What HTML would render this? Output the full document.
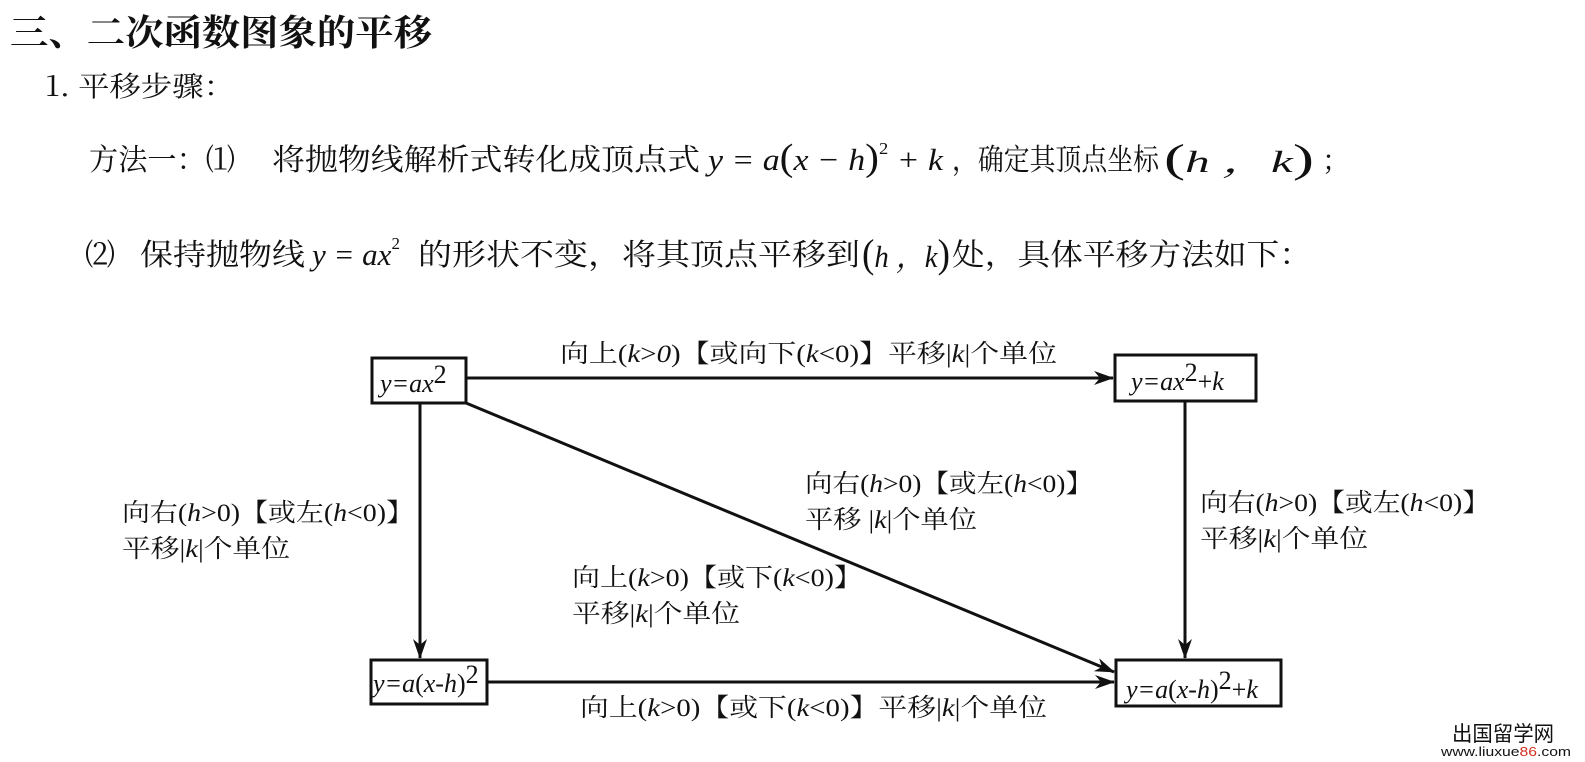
<!DOCTYPE html>
<html><head><meta charset="utf-8"><style>
html,body{margin:0;padding:0;background:#fff;overflow:hidden;width:1585px;height:762px;}
svg{display:block;}
text{font-family:"Liberation Serif","Noto Serif CJK SC",serif;fill:#111;}
.s{font-family:"Noto Serif CJK SC","Liberation Serif",serif;}
</style></head><body>
<svg width="1585" height="762" viewBox="0 0 1585 762" xmlns="http://www.w3.org/2000/svg">
<defs><marker id="a" viewBox="0 0 20 14" refX="19" refY="7" markerWidth="20" markerHeight="14" markerUnits="userSpaceOnUse" orient="auto"><path d="M0,0 L20,7 L0,14 L6,7 Z" fill="#111"/></marker></defs>
<text x="10" y="45" font-size="36" class="s" textLength="422" lengthAdjust="spacingAndGlyphs" font-weight="bold">三、二次函数图象的平移</text>
<text x="45" y="96" font-size="28" class="s" textLength="190" lengthAdjust="spacingAndGlyphs">1. 平移步骤：</text>

<text x="89" y="170" font-size="30" class="s" textLength="146" lengthAdjust="spacingAndGlyphs">方法一：⑴</text>
<text x="272" y="170" font-size="30" class="s" textLength="428" lengthAdjust="spacingAndGlyphs">将抛物线解析式转化成顶点式</text>
<text x="708" y="170" font-size="31" font-style="italic" textLength="235" lengthAdjust="spacingAndGlyphs">y = a<tspan font-style="normal" font-size="38">(</tspan>x − h<tspan font-style="normal" font-size="38">)</tspan><tspan font-size="17" dy="-16" font-style="normal">2</tspan><tspan dy="16"> + k</tspan></text>
<text x="952" y="170" font-size="30" class="s" textLength="207" lengthAdjust="spacingAndGlyphs">，确定其顶点坐标</text>
<text x="1164" y="172" font-size="31" font-style="italic" textLength="150" lengthAdjust="spacingAndGlyphs"><tspan font-style="normal" font-size="40">(</tspan>h ，k<tspan font-style="normal" font-size="40">)</tspan></text>
<text x="1322" y="170" font-size="28" class="s">；</text>

<text x="85" y="265" font-size="30" class="s" textLength="30" lengthAdjust="spacingAndGlyphs">⑵</text>
<text x="140" y="265" font-size="30" class="s" textLength="165" lengthAdjust="spacingAndGlyphs">保持抛物线</text>
<text x="312" y="265" font-size="31" font-style="italic">y = ax<tspan font-size="17" dy="-16" font-style="normal">2</tspan></text>
<text x="418" y="265" font-size="30" class="s" textLength="442" lengthAdjust="spacingAndGlyphs">的形状不变，将其顶点平移到</text>
<text x="862" y="267" font-size="31" font-style="italic" textLength="88" lengthAdjust="spacingAndGlyphs"><tspan font-style="normal" font-size="40">(</tspan>h ，k<tspan font-style="normal" font-size="40">)</tspan></text>
<text x="952" y="265" font-size="30" class="s" textLength="360" lengthAdjust="spacingAndGlyphs">处，具体平移方法如下：</text>

<g stroke="#111" stroke-width="3" fill="none">
<rect x="372" y="358" width="94" height="45"/>
<rect x="1115" y="355" width="141" height="46"/>
<rect x="371" y="660" width="116" height="44"/>
<rect x="1116" y="660" width="165" height="46"/>
<line x1="466" y1="378" x2="1113" y2="378" marker-end="url(#a)"/>
<line x1="420" y1="403" x2="420" y2="658" marker-end="url(#a)"/>
<line x1="1185" y1="401" x2="1185" y2="658" marker-end="url(#a)"/>
<line x1="487" y1="682" x2="1114" y2="682" marker-end="url(#a)"/>
<line x1="466" y1="403" x2="1114" y2="672" marker-end="url(#a)"/>
</g>
<g font-size="26">
<text x="380" y="392" font-style="italic">y=ax<tspan font-style="normal" dy="-9">2</tspan></text>
<text x="1131" y="390" font-style="italic">y=ax<tspan font-style="normal" dy="-9">2</tspan><tspan dy="9" font-style="normal">+</tspan>k</text>
<text x="373" y="692" font-style="italic">y=a<tspan font-style="normal">(</tspan>x-h<tspan font-style="normal">)</tspan><tspan font-style="normal" dy="-9">2</tspan></text>
<text x="1126" y="698" font-style="italic">y=a<tspan font-style="normal">(</tspan>x-h<tspan font-style="normal">)</tspan><tspan font-style="normal" dy="-9">2</tspan><tspan dy="9" font-style="normal">+</tspan>k</text>
</g>
<g font-size="25">
<text x="560" y="362" textLength="497" lengthAdjust="spacingAndGlyphs">向上(<tspan font-style="italic">k</tspan>&gt;<tspan font-style="italic">0</tspan>)【或向下(<tspan font-style="italic">k</tspan>&lt;0)】平移|<tspan font-style="italic">k</tspan>|个单位</text>
<text x="805" y="492" textLength="288" lengthAdjust="spacingAndGlyphs">向右(<tspan font-style="italic">h</tspan>&gt;0)【或左(<tspan font-style="italic">h</tspan>&lt;0)】</text>
<text x="805" y="528" textLength="172" lengthAdjust="spacingAndGlyphs">平移 |<tspan font-style="italic">k</tspan>|个单位</text>
<text x="122" y="521" textLength="292" lengthAdjust="spacingAndGlyphs">向右(<tspan font-style="italic">h</tspan>&gt;0)【或左(<tspan font-style="italic">h</tspan>&lt;0)】</text>
<text x="122" y="557" textLength="168" lengthAdjust="spacingAndGlyphs">平移|<tspan font-style="italic">k</tspan>|个单位</text>
<text x="572" y="586" textLength="290" lengthAdjust="spacingAndGlyphs">向上(<tspan font-style="italic">k</tspan>&gt;0)【或下(<tspan font-style="italic">k</tspan>&lt;0)】</text>
<text x="572" y="622" textLength="168" lengthAdjust="spacingAndGlyphs">平移|<tspan font-style="italic">k</tspan>|个单位</text>
<text x="1200" y="511" textLength="290" lengthAdjust="spacingAndGlyphs">向右(<tspan font-style="italic">h</tspan>&gt;0)【或左(<tspan font-style="italic">h</tspan>&lt;0)】</text>
<text x="1200" y="547" textLength="168" lengthAdjust="spacingAndGlyphs">平移|<tspan font-style="italic">k</tspan>|个单位</text>
<text x="580" y="716" textLength="467" lengthAdjust="spacingAndGlyphs">向上(<tspan font-style="italic">k</tspan>&gt;0)【或下(<tspan font-style="italic">k</tspan>&lt;0)】平移|<tspan font-style="italic">k</tspan>|个单位</text>
</g>
<text x="1452" y="741" font-size="21" fill="#222" textLength="102" lengthAdjust="spacingAndGlyphs" style="font-family:'Noto Sans CJK SC',sans-serif">出国留学网</text>
<text x="1441" y="756" font-size="13" fill="#2a4a8a" style="font-family:'Liberation Sans',sans-serif" textLength="130" lengthAdjust="spacingAndGlyphs">www.liuxue<tspan fill="#d03020">86</tspan>.com</text>
</svg>
</body></html>
